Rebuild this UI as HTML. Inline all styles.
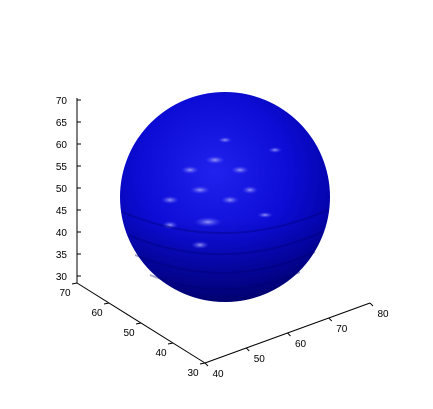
<!DOCTYPE html>
<html><head><meta charset="utf-8"><style>
html,body{margin:0;padding:0;background:#fff;}
svg{display:block;font-family:"Liberation Sans",Arial,sans-serif;}
</style></head><body>
<svg id="chart" width="433" height="409" viewBox="0 0 433 409" xmlns="http://www.w3.org/2000/svg">
<defs>
<radialGradient id="sg" cx="0.45" cy="0.38" r="0.65">
<stop offset="0" stop-color="#2222ee"/>
<stop offset="0.55" stop-color="#0c0cd6"/>
<stop offset="0.85" stop-color="#0505b0"/>
<stop offset="1" stop-color="#02028a"/>
</radialGradient>
<linearGradient id="bot" x1="0" y1="0" x2="0" y2="1">
<stop offset="0.6" stop-color="#000060" stop-opacity="0"/>
<stop offset="1" stop-color="#000050" stop-opacity="0.55"/>
</linearGradient>
<radialGradient id="hl" cx="0.5" cy="0.5" r="0.5">
<stop offset="0" stop-color="#c8c8ff" stop-opacity="0.9"/>
<stop offset="1" stop-color="#5050ff" stop-opacity="0"/>
</radialGradient>
</defs>
<g id="axes"></g>
<g id="sphere">
<circle cx="225" cy="197" r="105" fill="url(#sg)"/>
<circle cx="225" cy="197" r="105" fill="url(#bot)"/>
<g opacity="0.8">
<ellipse cx="200" cy="190" rx="10" ry="4" fill="url(#hl)"/>
<ellipse cx="208" cy="222" rx="14" ry="5" fill="url(#hl)"/>
<ellipse cx="190" cy="170" rx="9" ry="4" fill="url(#hl)"/>
<ellipse cx="215" cy="160" rx="10" ry="4" fill="url(#hl)"/>
<ellipse cx="240" cy="170" rx="9" ry="4" fill="url(#hl)"/>
<ellipse cx="250" cy="190" rx="8" ry="4" fill="url(#hl)"/>
<ellipse cx="170" cy="200" rx="9" ry="4" fill="url(#hl)"/>
<ellipse cx="230" cy="200" rx="9" ry="4" fill="url(#hl)"/>
<ellipse cx="200" cy="245" rx="9" ry="4" fill="url(#hl)"/>
<ellipse cx="170" cy="225" rx="8" ry="4" fill="url(#hl)"/>
<ellipse cx="265" cy="215" rx="8" ry="3" fill="url(#hl)"/>
<ellipse cx="275" cy="150" rx="7" ry="3" fill="url(#hl)"/>
<ellipse cx="225" cy="140" rx="7" ry="3" fill="url(#hl)"/>
</g>
<g stroke="#000070" stroke-opacity="0.35" fill="none" stroke-width="2">
<path d="M128 235 Q225 275 322 232"/>
<path d="M135 255 Q225 292 315 252"/>
<path d="M150 275 Q225 305 300 272"/>
<path d="M122 212 Q225 255 328 210"/>
</g>
</g>
<script>
const zTicks=[30,35,40,45,50,55,60,65,70];
const yTicks=[30,40,50,60,70];
const xTicks=[40,50,60,70,80];
const NS="http://www.w3.org/2000/svg";
const ax=document.getElementById('axes');
function zPos(v){return 276-(v-30)*(176/40);}
// y-axis (left depth axis): 70 at (77,283) -> 30 at (205,363)
function yPt(v){const t=(70-v)/40;return [77+t*128,283+t*80];}
// x-axis: 40 at (205,363) -> 80 at (370,303)
function xPt(v){const t=(v-40)/40;return [205+t*165,363-t*60];}
function line(x1,y1,x2,y2,name){const l=document.createElementNS(NS,'line');
l.setAttribute('x1',x1);l.setAttribute('y1',y1);l.setAttribute('x2',x2);l.setAttribute('y2',y2);
l.setAttribute('stroke','#000');l.setAttribute('stroke-width','1');


ax.appendChild(l);}
function text(x,y,s,anchor,name){const t=document.createElementNS(NS,'text');
t.setAttribute('x',x);t.setAttribute('y',y);t.setAttribute('font-size','10');t.setAttribute('text-anchor',anchor);
t.textContent=s;


ax.appendChild(t);}
line(77,zPos(70)-2,77,283,'z-axis-line');
zTicks.forEach(v=>{const y=zPos(v);line(77,y,81,y,'z-tick');text(67,y+4,String(v),'end','z-tick-label');});
const y0=yPt(70),y1=yPt(30);line(y0[0],y0[1],y1[0],y1[1],'y-axis-line');
yTicks.forEach(v=>{const p=yPt(v);line(p[0],p[1],p[0]-5,p[1]+1,'y-tick');text(p[0]-12,p[1]+13,String(v),'middle','y-tick-label');});
const x0=xPt(40),x1=xPt(80);line(x0[0],x0[1],x1[0],x1[1],'x-axis-line');
xTicks.forEach(v=>{const p=xPt(v);line(p[0],p[1],p[0]+3,p[1]+3,'x-tick');text(p[0]+13,p[1]+14,String(v),'middle','x-tick-label');});
</script>
</svg>
</body></html>
